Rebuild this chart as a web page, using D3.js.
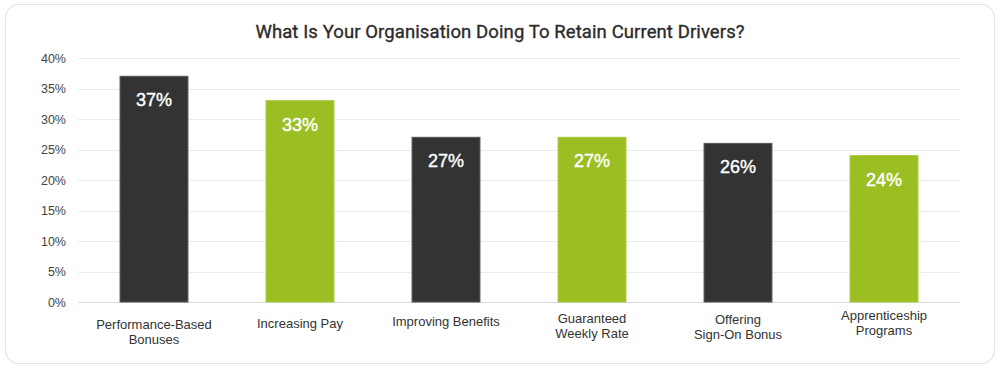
<!DOCTYPE html>
<html><head><meta charset="utf-8">
<script src="https://cdn.jsdelivr.net/npm/d3@7/dist/d3.min.js"></script>
<style>
html,body{margin:0;padding:0;background:#fff;}
svg{display:block;font-family:"Liberation Sans",Arial,sans-serif;}
</style></head>
<body><svg id="c" width="1000" height="369"></svg>
<script>
const title = "What Is Your Organisation Doing To Retain Current Drivers?";
const categories = [
  ["Performance-Based","Bonuses"],
  ["Increasing Pay"],
  ["Improving Benefits"],
  ["Guaranteed","Weekly Rate"],
  ["Offering","Sign-On Bonus"],
  ["Apprenticeship","Programs"]
];
const values = [37, 33, 27, 27, 26, 24];
const barColors = ["#333333","#9bbf22","#333333","#9bbf22","#333333","#9bbf22"];
const yTicks = [0,5,10,15,20,25,30,35,40];

const svg = d3.select("#c");
svg.append("rect").attr("x",5.5).attr("y",4.5).attr("width",989).attr("height",359)
  .attr("rx",13).attr("fill","#fff").attr("stroke","#e3e3e3").attr("stroke-width",1.2);

svg.append("text").attr("x",500).attr("y",38).attr("text-anchor","middle")
  .attr("font-size",18.5).attr("fill","#2b2b2b").attr("font-family","Roboto, 'Liberation Sans', sans-serif")
  .attr("font-weight",400).attr("letter-spacing",0.1).attr("stroke","#2b2b2b").attr("stroke-width",0.35).text(title);

const y = d3.scaleLinear().domain([0,40]).range([302,58]);
const x = d3.scaleBand().domain(d3.range(values.length)).range([81,957]).paddingInner(0.535).paddingOuter(0.2675);

const g = svg.append("g");
g.selectAll("line.grid").data(yTicks).enter().append("line")
  .attr("x1",78).attr("x2",960).attr("y1",d=>Math.round(y(d))+0.5).attr("y2",d=>Math.round(y(d))+0.5)
  .attr("stroke",d=>d===0?"#d9d9d9":"#ececec").attr("stroke-width",1);

const yAxis = d3.axisLeft(y).tickValues(yTicks).tickFormat(d=>d+"%").tickSize(0).tickPadding(0);
const ya = svg.append("g").attr("transform","translate(66,0)").call(yAxis);
ya.select(".domain").remove();
ya.selectAll("text").attr("font-size",12.5).attr("fill","#444").attr("font-family","'Liberation Sans',Arial,sans-serif");

g.selectAll("rect.bar").data(values).enter().append("rect")
  .attr("x",(d,i)=>x(i)).attr("width",x.bandwidth())
  .attr("y",d=>y(d)).attr("height",d=>y(0)-y(d))
  .attr("fill",(d,i)=>barColors[i])
  .attr("stroke",(d,i)=>i%2===0?"#555":"#a8c93a").attr("stroke-width",1);

g.selectAll("text.val").data(values).enter().append("text")
  .attr("x",(d,i)=>x(i)+x.bandwidth()/2).attr("y",d=>y(d)+30)
  .attr("text-anchor","middle").attr("fill","#fff").attr("font-size",18)
  .attr("stroke","#fff").attr("stroke-width",0.4)
  .attr("font-family","'Liberation Sans',Arial,sans-serif")
  .text(d=>d+"%");

// category labels, slightly rising left-to-right as in reference
const labelBase = [329,328,326,323,324,320];
categories.forEach((lines,i)=>{
  const t = svg.append("text").attr("text-anchor","middle").attr("font-size",13)
    .attr("fill","#333").attr("font-family","'Liberation Sans',Arial,sans-serif");
  lines.forEach((ln,j)=>{
    t.append("tspan").attr("x",x(i)+x.bandwidth()/2).attr("y",labelBase[i]+j*15).text(ln);
  });
});
</script></body></html>
